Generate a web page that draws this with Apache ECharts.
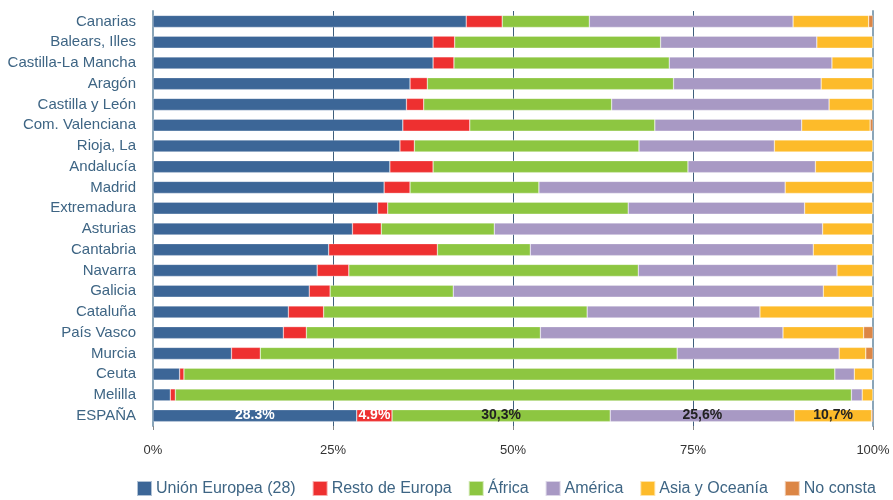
<!DOCTYPE html>
<html>
<head>
<meta charset="utf-8">
<script src="https://cdn.jsdelivr.net/npm/echarts@6/dist/echarts.min.js"></script>
<style>
  html, body { margin: 0; padding: 0; background: #fff; }
  #main { width: 893px; height: 500px; }
</style>
</head>
<body>
<div id="main"></div>
<script>
// categorias (de arriba a abajo)
var regiones = ['Canarias', 'Balears, Illes', 'Castilla-La Mancha', 'Aragón', 'Castilla y León',
  'Com. Valenciana', 'Rioja, La', 'Andalucía', 'Madrid', 'Extremadura', 'Asturias', 'Cantabria',
  'Navarra', 'Galicia', 'Cataluña', 'País Vasco', 'Murcia', 'Ceuta', 'Melilla', 'ESPAÑA'];

var nombres = ['Unión Europea (28)', 'Resto de Europa', 'África', 'América', 'Asia y Oceanía', 'No consta'];
var colores = ['#3c6697', '#ee3030', '#8dc641', '#a899c4', '#fdbb2a', '#dc8645'];

// porcentajes por serie
var ue      = [43.5, 38.9, 38.9, 35.7, 35.2, 34.7, 34.3, 32.9, 32.1, 31.2, 27.7, 24.4, 22.8, 21.7, 18.8, 18.1, 10.9, 3.7, 2.4, 28.3];
var restoEu = [5.0, 3.0, 2.9, 2.4, 2.4, 9.3, 2.0, 6.0, 3.6, 1.4, 4.0, 15.1, 4.4, 2.9, 4.9, 3.2, 4.0, 0.6, 0.7, 4.9];
var africa  = [12.1, 28.6, 29.9, 34.2, 26.1, 25.7, 31.2, 35.4, 17.9, 33.4, 15.7, 12.9, 40.2, 17.1, 36.6, 32.5, 57.9, 90.4, 93.9, 30.3];
var america = [28.3, 21.7, 22.6, 20.5, 30.2, 20.4, 18.8, 17.7, 34.2, 24.5, 45.6, 39.3, 27.6, 51.4, 24.0, 33.7, 22.5, 2.7, 1.5, 25.6];
var asia    = [10.5, 7.8, 5.7, 7.2, 6.1, 9.5, 13.7, 8.0, 12.2, 9.5, 7.0, 8.3, 5.0, 6.9, 15.7, 11.2, 3.7, 2.6, 1.5, 10.7];
var noConsta= [0.6, 0, 0, 0, 0, 0.4, 0, 0, 0, 0, 0, 0, 0, 0, 0, 1.3, 1.0, 0, 0, 0.2];

// etiquetas de la barra ESPAÑA
var etiquetasEsp = ['28.3%', '4.9%', '30,3%', '25,6%', '10,7%', ''];
var colorEtiq = ['#ffffff', '#ffffff', '#222222', '#222222', '#222222', '#222222'];

var valores = [ue, restoEu, africa, america, asia, noConsta];

var chart = echarts.init(document.getElementById('main'));

var series = valores.map(function (arr, s) {
  return {
    name: nombres[s],
    type: 'bar',
    stack: 'total',
    barWidth: 12,
    itemStyle: { color: colores[s], borderColor: 'rgba(255,255,255,0.6)', borderWidth: 0.5 },
    data: arr.map(function (v, i) {
      if (i === regiones.length - 1 && etiquetasEsp[s]) {
        return {
          value: v,
          label: {
            show: true, position: 'inside', formatter: etiquetasEsp[s],
            color: colorEtiq[s], fontWeight: 'bold', fontSize: 14,
            fontFamily: 'Liberation Sans'
          }
        };
      }
      return v;
    })
  };
});

var option = {
  animation: false,
  textStyle: { fontFamily: 'Liberation Sans' },
  grid: { left: 153, right: 20, top: 11, bottom: 74, containLabel: false },
  legend: {
    data: nombres,
    top: 478,
    left: 134,
    padding: 2,
    itemWidth: 15,
    itemHeight: 15,
    itemGap: 16,
    icon: 'rect',
    textStyle: { color: '#3e6584', fontSize: 16, padding: [0, 0, 0, -1] }
  },
  xAxis: {
    type: 'value',
    min: 0, max: 100, interval: 25,
    axisLabel: { formatter: '{value}%', color: '#333', fontSize: 13, margin: 18 },
    axisLine: { show: false },
    axisTick: { show: true, length: 4, lineStyle: { color: '#888' } },
    splitLine: {
      show: true,
      lineStyle: { color: ['#8aa5b8', '#3f5f7c', '#3f5f7c', '#3f5f7c', '#8aa5b8'], width: 1 }
    }
  },
  yAxis: [{
    type: 'category',
    data: regiones,
    inverse: true,
    axisLine: { show: true, lineStyle: { color: '#8aa5b8', width: 2 } },
    axisTick: { show: false },
    axisLabel: { color: '#3e6584', fontSize: 15, margin: 17 }
  }, {
    type: 'category',
    data: regiones,
    inverse: true,
    position: 'right',
    axisLine: { show: true, lineStyle: { color: '#8aa5b8', width: 2 } },
    axisTick: { show: false },
    axisLabel: { show: false }
  }],
  series: series
};

chart.setOption(option);
</script>
</body>
</html>
